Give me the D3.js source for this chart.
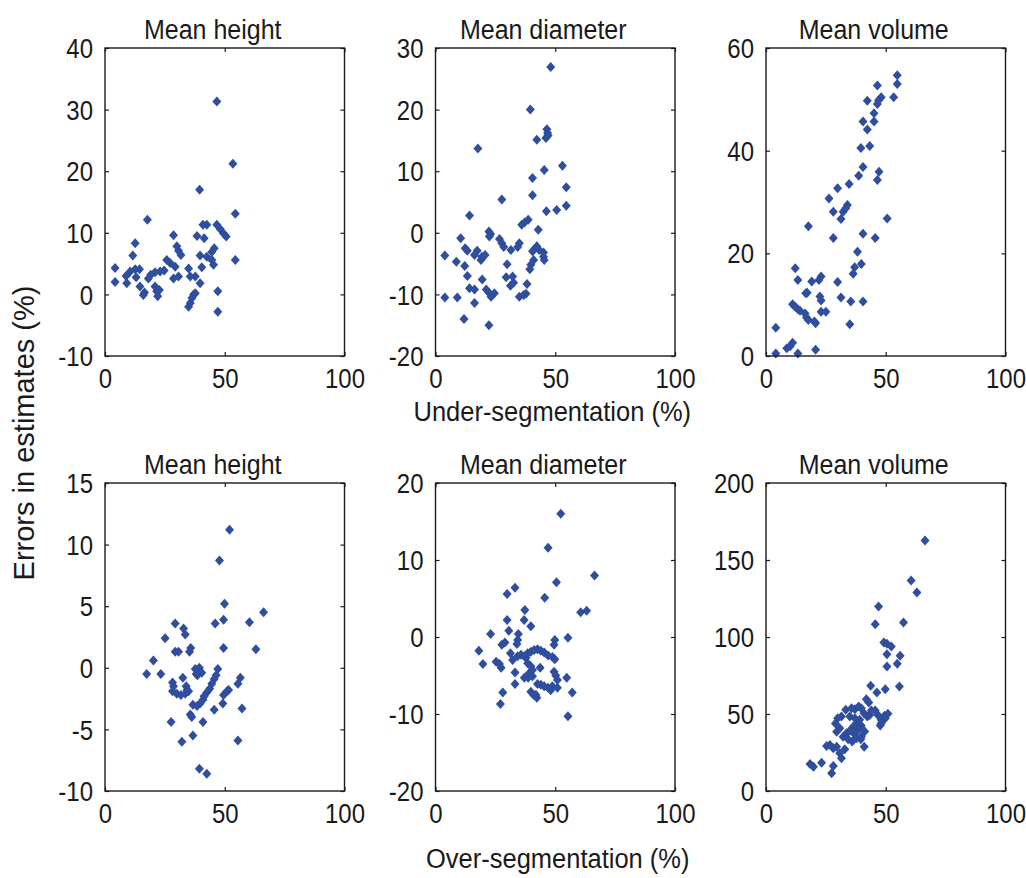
<!DOCTYPE html>
<html><head><meta charset="utf-8">
<script src="https://cdn.jsdelivr.net/npm/d3@7"></script>
<style>
html,body{margin:0;padding:0;background:#fff;}
svg text{font-family:"Liberation Sans",Arial,sans-serif;fill:#1a1a1a;}
</style></head>
<body><svg id="chart" width="1026" height="878"></svg>
<script>
// ---- data ----
const titles = ["Mean height","Mean diameter","Mean volume"];
const xLabelTop = "Under-segmentation (%)";
const xLabelBottom = "Over-segmentation (%)";
const yLabel = "Errors in estimates (%)";
const xTicks = [0,50,100];
const xDomain = [0,100];

const underHeightDomain = [-10,40];
const underHeightTicks = [-10,0,10,20,30,40];
const underDiameterDomain = [-20,30];
const underDiameterTicks = [-20,-10,0,10,20,30];
const underVolumeDomain = [0,60];
const underVolumeTicks = [0,20,40,60];
const overHeightDomain = [-10,15];
const overHeightTicks = [-10,-5,0,5,10,15];
const overDiameterDomain = [-20,20];
const overDiameterTicks = [-20,-10,0,10,20];
const overVolumeDomain = [0,200];
const overVolumeTicks = [0,50,100,150,200];

const underHeight = [[46.7,31.3],[53.4,21.2],[39.5,17.0],[54.4,13.1],[17.7,12.1],[28.6,9.6],[12.6,8.3],
[40.9,11.3],[42.5,11.3],[38.4,9.5],[41.4,9.1],[46.7,11.3],[48.1,10.6],[49.5,9.9],[50.6,9.4],
[54.4,5.6],[11.6,6.3],[30.0,7.8],[30.7,7.1],[31.7,6.4],[39.7,6.3],[42.5,6.1],[44.6,6.9],[45.6,7.5],
[44.6,5.6],[45.3,4.8],[25.8,5.6],[27.2,5.1],[29.3,4.5],[4.2,4.3],[4.2,2.0],
[8.8,3.0],[10.5,3.7],[12.6,4.1],[14.4,4.1],[9.1,1.8],[13.0,2.8],[14.6,1.3],[16.0,-0.1],[16.5,0.3],
[18.1,2.6],[19.1,3.2],[20.9,3.6],[23.0,3.7],[24.7,3.9],[20.9,1.3],[21.6,0.5],[22.0,-0.3],[22.7,0.7],
[28.6,2.6],[30.7,2.9],[34.9,4.2],[35.6,2.9],[37.7,2.9],
[34.9,-2.0],[35.6,-1.4],[36.3,-0.6],[37.0,0.0],[37.7,0.2],[39.7,1.8],[40.4,4.4],[47.1,0.5],[47.1,-2.8]];

const underDiameter = [[48.1,26.9],[39.6,20.0],[17.7,13.7],[42.3,15.1],[46.5,16.8],[46.8,16.2],[47.0,15.8],[46.1,15.4],
[53.0,10.9],[45.4,10.2],[40.5,8.9],[54.6,7.4],[40.5,6.1],[27.7,5.4],[54.6,4.4],[50.6,3.7],[46.3,3.5],[14.2,2.8],
[38.7,2.1],[37.3,1.7],[36.0,1.3],[42.9,0.5],[22.3,0.2],[23.0,-0.2],[22.5,-0.6],[10.5,-0.9],
[26.7,-1.0],[27.7,-1.7],[28.5,-2.3],[31.5,-2.8],[34.3,-2.3],[35.0,-1.7],[12.4,-2.5],[13.3,-2.9],[3.9,-3.7],
[17.4,-2.9],[16.3,-3.6],[19.4,-3.9],[20.7,-3.6],[19.0,-4.4],[8.7,-4.7],[12.2,-5.4],
[40.5,-3.0],[41.2,-2.7],[41.0,-4.4],[39.8,-5.2],[39.4,-5.9],[42.3,-2.2],[43.3,-2.8],
[45.1,-3.2],[45.1,-3.9],[45.4,-4.4],[29.9,-5.1],[13.3,-7.0],
[29.5,-7.2],[32.2,-7.1],[31.3,-8.6],[32.6,-8.1],[38.2,-8.3],[19.5,-7.6],[14.2,-9.0],[16.3,-9.2],
[21.2,-9.2],[22.5,-9.8],[23.2,-10.4],[24.6,-9.8],[3.9,-10.5],[9.1,-10.5],
[35.0,-10.4],[36.8,-10.1],[37.8,-9.9],[16.3,-11.4],[11.9,-14.0],[22.3,-15.0]];

const underVolume = [[54.8,54.7],[54.8,53.0],[46.5,52.7],[53.3,50.4],[48.1,50.4],[47.0,49.8],[46.5,49.1],[42.3,49.7],
[45.1,47.3],[45.1,45.7],[40.5,45.7],[42.3,44.1],[39.6,40.5],[43.3,40.9],[40.5,36.8],
[47.2,35.9],[46.5,34.3],[38.7,35.1],[34.7,33.5],[29.9,32.7],[26.3,30.7],
[34.0,29.4],[33.3,28.8],[32.2,28.1],[28.1,28.1],[31.3,26.7],[50.6,26.8],[17.7,25.3],
[40.5,23.8],[28.1,23.0],[45.6,23.0],[38.2,20.3],[39.8,17.9],[37.0,17.3],[36.4,16.0],
[12.2,17.1],[13.3,14.8],[23.0,15.5],[22.1,14.8],[19.1,14.5],[29.9,14.4],[16.6,12.2],[17.2,12.3],
[11.1,10.1],[12.2,9.6],[13.3,9.1],[14.2,8.8],[22.5,11.6],[23.0,10.8],[31.3,11.4],[35.4,10.6],[40.5,10.6],
[23.0,8.6],[25.0,8.6],[16.3,8.3],[16.9,7.5],[17.7,7.0],[20.2,6.7],[20.7,6.4],[35.0,6.2],
[4.1,5.5],[11.1,2.6],[10.1,1.9],[8.7,1.5],[20.7,1.2],[4.1,0.5],[13.3,0.5]];

const overHeight = [[52.0,11.2],[47.8,8.7],[49.9,5.2],[66.2,4.5],[49.5,3.9],[46.0,3.6],[60.3,3.7],[29.3,3.6],
[32.8,3.2],[33.5,2.7],[25.1,2.4],[49.5,1.6],[63.0,1.5],[29.3,1.3],[30.7,1.3],[35.8,1.6],[35.3,1.3],
[20.2,0.6],[17.4,-0.5],[23.3,-0.5],[37.7,-0.1],[39.4,0.0],[38.6,-0.6],[40.4,-0.4],[38.1,-0.5],
[47.1,-0.1],[46.4,-0.6],[45.6,-0.9],[44.6,-1.3],[43.7,-1.7],[42.5,-2.0],[41.4,-2.3],[40.9,-2.6],
[32.5,-0.8],[28.2,-1.2],[28.6,-1.5],[28.2,-1.9],[30.0,-2.1],[31.7,-2.2],[33.5,-2.1],[34.2,-1.8],
[33.9,-1.5],[34.9,-1.9],[49.5,-2.2],[50.9,-1.9],[51.6,-1.8],[55.5,-1.3],[56.5,-0.8],
[57.2,-3.3],[49.2,-2.9],[45.6,-3.4],[36.7,-3.0],[38.4,-3.1],[39.7,-2.9],
[35.6,-3.8],[36.2,-4.0],[27.6,-4.4],[40.9,-4.4],[36.7,-5.5],[32.1,-6.0],[55.5,-5.9],[39.4,-8.2],[42.5,-8.6]];

const overDiameter = [[52.3,16.0],[47.0,11.6],[66.4,8.0],[50.5,7.1],[33.2,6.4],[29.9,5.6],[45.6,5.1],
[60.6,3.2],[63.1,3.4],[37.3,3.5],[37.0,2.2],[39.8,1.4],[29.9,2.2],[30.6,0.8],[23.0,0.4],
[34.6,0.4],[34.3,-0.4],[34.0,-0.9],[49.8,-0.4],[49.5,-1.0],[55.3,-0.1],[29.0,-0.7],[27.7,-1.0],
[18.1,-1.8],[19.8,-3.5],[25.3,-3.2],[26.7,-3.5],[27.4,-4.0],[31.3,-2.1],
[32.2,-3.0],[34.3,-2.5],[35.7,-2.3],[37.1,-2.5],
[38.5,-2.1],[39.8,-1.9],[41.2,-1.7],[42.6,-1.6],[44.0,-1.8],[45.4,-2.0],[47.0,-2.4],[48.8,-2.6],[49.8,-2.9],
[37.8,-2.7],[38.5,-3.4],[39.8,-3.8],[40.5,-4.3],[39.1,-4.7],[40.5,-5.1],
[33.2,-4.6],[43.7,-4.0],[49.5,-4.5],[50.2,-5.0],[50.9,-5.6],[37.1,-5.3],[38.7,-5.3],[54.8,-5.3],
[33.2,-6.1],[42.6,-6.1],[44.0,-6.2],[45.4,-6.4],[47.0,-6.6],[48.1,-6.9],[48.8,-6.4],[50.9,-6.6],
[39.8,-7.1],[40.9,-7.5],[42.3,-7.9],[41.9,-7.5],[28.1,-7.2],[57.1,-7.2],[27.1,-8.7],[55.3,-10.3]];

const overVolume = [[66.4,162.7],[60.6,136.7],[63.0,128.9],[47.0,119.8],[57.4,109.4],[45.6,108.3],
[49.2,96.4],[50.5,95.6],[52.3,93.8],[56.0,87.8],[50.5,88.8],[54.8,82.6],[50.5,80.8],
[55.7,67.8],[43.7,68.3],[46.3,63.9],[49.8,66.1],[41.9,59.6],[42.9,57.4],
[33.3,52.7],[35.7,53.7],[37.1,53.1],[38.7,54.8],[39.8,53.7],
[45.6,52.2],[46.7,49.4],[48.1,46.2],[49.5,48.8],[50.9,50.1],[49.8,47.3],[47.7,42.5],[48.1,44.0],
[40.9,50.5],[42.3,48.4],[43.3,49.4],[44.0,52.2],
[29.9,47.2],[29.0,43.9],[30.8,40.7],[29.5,38.5],[32.2,35.3],[33.6,37.5],[35.0,39.2],[36.4,41.8],
[37.8,44.0],[39.1,46.2],[39.8,42.3],[36.9,37.0],[38.6,39.7],[39.8,35.3],[41.2,38.6],
[34.3,33.6],[36.0,32.1],[37.8,34.2],[39.6,33.6],[41.0,28.7],
[31.5,48.3],[35.0,48.3],[37.1,47.2],
[25.3,29.3],[26.7,29.9],[28.1,27.7],[29.5,28.8],[32.9,27.1],[30.8,24.5],[31.5,21.2],
[28.1,16.3],[27.4,11.5],[23.2,18.4],[18.4,17.6],[19.8,15.8]];

// ---- layout ----
const colX = [105, 435.5, 766];
const rowY = [48, 483];
const PW = 239.5, PH = 308;
const markerColor = "#2f4e9e";
const stretch = 1.15;
const fmt = d => String(d);   // plain hyphen minus, as in the reference

const panels = [
  {row:0,col:0,title:titles[0],data:underHeight,dom:underHeightDomain,ticks:underHeightTicks},
  {row:0,col:1,title:titles[1],data:underDiameter,dom:underDiameterDomain,ticks:underDiameterTicks},
  {row:0,col:2,title:titles[2],data:underVolume,dom:underVolumeDomain,ticks:underVolumeTicks},
  {row:1,col:0,title:titles[0],data:overHeight,dom:overHeightDomain,ticks:overHeightTicks},
  {row:1,col:1,title:titles[1],data:overDiameter,dom:overDiameterDomain,ticks:overDiameterTicks},
  {row:1,col:2,title:titles[2],data:overVolume,dom:overVolumeDomain,ticks:overVolumeTicks}
];

const svg = d3.select("#chart");
const diamond = "M0,-5L4.5,0L0,5L-4.5,0Z";

panels.forEach(p => {
  const x0 = colX[p.col], y0 = rowY[p.row];
  const g = svg.append("g").attr("transform", `translate(${x0},${y0})`);
  const x = d3.scaleLinear().domain(xDomain).range([0, PW]);
  const y = d3.scaleLinear().domain(p.dom).range([PH, 0]);

  // points
  g.append("g").selectAll("path").data(p.data).join("path")
    .attr("d", diamond)
    .attr("transform", d => `translate(${x(d[0])},${y(d[1])})`)
    .attr("fill", markerColor);

  const styleAxis = sel => {
    sel.select(".domain").remove();
    sel.selectAll(".tick line").attr("stroke", "#1a1a1a").attr("stroke-width", 1.2);
  };
  const left = g.append("g").call(d3.axisLeft(y).tickValues(p.ticks).tickSize(-4).tickFormat(fmt));
  styleAxis(left);
  left.selectAll(".tick text")
    .attr("x", -12).attr("y", 0).attr("dy", null)
    .attr("transform", `scale(1,${stretch})`)
    .attr("dominant-baseline", "central")
    .style("font-size", "24px").attr("fill", "#1a1a1a");

  const bottom = g.append("g").attr("transform", `translate(0,${PH})`)
    .call(d3.axisBottom(x).tickValues(xTicks).tickSize(-4).tickFormat(fmt));
  styleAxis(bottom);
  bottom.selectAll(".tick text")
    .attr("y", 32 / stretch).attr("dy", null)
    .attr("transform", `scale(1,${stretch})`)
    .style("font-size", "24px").attr("fill", "#1a1a1a");

  const right = g.append("g").attr("transform", `translate(${PW},0)`)
    .call(d3.axisRight(y).tickValues(p.ticks).tickSize(-4).tickFormat(""));
  styleAxis(right);
  const top = g.append("g")
    .call(d3.axisTop(x).tickValues(xTicks).tickSize(-4).tickFormat(""));
  styleAxis(top);

  g.append("rect").attr("x", 0).attr("y", 0).attr("width", PW).attr("height", PH)
    .attr("fill", "none").attr("stroke", "#1a1a1a").attr("stroke-width", 1.4);

  g.append("text")
    .attr("transform", `translate(${PW / 2 - 12},-9) scale(1,1.08)`)
    .attr("text-anchor", "middle")
    .style("font-size", "25px")
    .text(p.title);
});

// axis labels
const midX = colX[1] + PW / 2;
svg.append("text").attr("transform", `translate(${midX - 3},421) scale(1,1.08)`)
  .attr("text-anchor", "middle").style("font-size", "25.5px").text(xLabelTop);
svg.append("text").attr("transform", `translate(${midX + 2.5},868) scale(1,1.06)`)
  .attr("text-anchor", "middle").style("font-size", "25.5px").text(xLabelBottom);
svg.append("text").attr("transform", `translate(33.5,433) rotate(-90)`)
  .attr("text-anchor", "middle").style("font-size", "29px").text(yLabel);
</script></body></html>
